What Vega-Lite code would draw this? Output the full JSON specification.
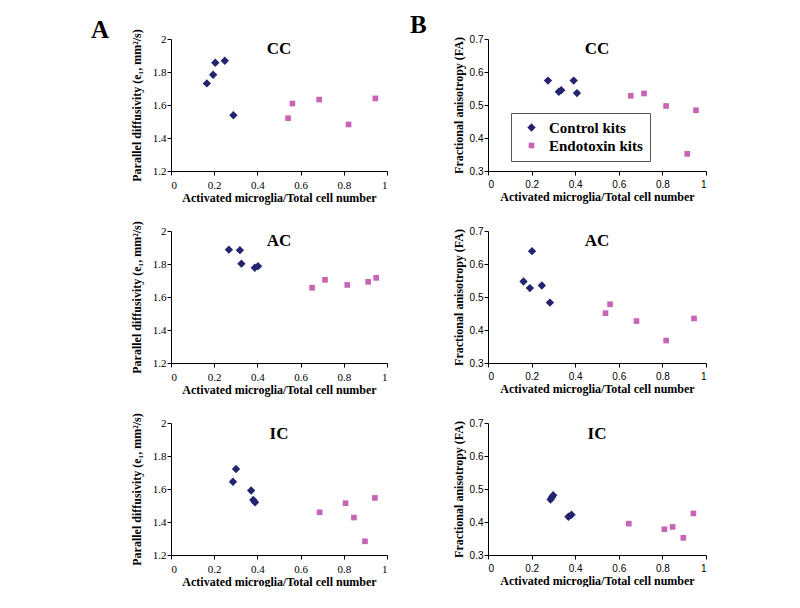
{
  "$schema": "https://vega.github.io/schema/vega-lite/v6.json",
  "background": "white",
  "padding": {"left": 91, "top": 13, "right": 0, "bottom": 0},
  "config": {
    "view": {"stroke": null},
    "axis": {
      "grid": false,
      "domainColor": "#000",
      "domainWidth": 1,
      "tickColor": "#000",
      "tickSize": 4,
      "labelColor": "#000",
      "labelOverlap": false,
      "titleColor": "#000",
      "titleFont": "Liberation Serif",
      "titleFontSize": 12,
      "titleFontWeight": "bold"
    },
    "axisX": {"labelPadding": 4, "titlePadding": 2},
    "axisY": {"labelPadding": 1, "titlePadding": 9}
  },
  "datasets": {
    "pts": [
      {"panel": "A-CC", "group": "Control kits", "ratio": 0.166, "value": 1.731},
      {"panel": "A-CC", "group": "Control kits", "ratio": 0.195, "value": 1.783},
      {"panel": "A-CC", "group": "Control kits", "ratio": 0.205, "value": 1.856},
      {"panel": "A-CC", "group": "Control kits", "ratio": 0.249, "value": 1.868},
      {"panel": "A-CC", "group": "Control kits", "ratio": 0.289, "value": 1.538},
      {"panel": "A-CC", "group": "Endotoxin kits", "ratio": 0.542, "value": 1.520},
      {"panel": "A-CC", "group": "Endotoxin kits", "ratio": 0.562, "value": 1.609},
      {"panel": "A-CC", "group": "Endotoxin kits", "ratio": 0.686, "value": 1.633},
      {"panel": "A-CC", "group": "Endotoxin kits", "ratio": 0.822, "value": 1.482},
      {"panel": "A-CC", "group": "Endotoxin kits", "ratio": 0.946, "value": 1.640},
      {"panel": "B-CC", "group": "Control kits", "ratio": 0.275, "value": 0.574},
      {"panel": "B-CC", "group": "Control kits", "ratio": 0.325, "value": 0.540},
      {"panel": "B-CC", "group": "Control kits", "ratio": 0.336, "value": 0.545},
      {"panel": "B-CC", "group": "Control kits", "ratio": 0.393, "value": 0.574},
      {"panel": "B-CC", "group": "Control kits", "ratio": 0.408, "value": 0.536},
      {"panel": "B-CC", "group": "Endotoxin kits", "ratio": 0.655, "value": 0.528},
      {"panel": "B-CC", "group": "Endotoxin kits", "ratio": 0.716, "value": 0.535},
      {"panel": "B-CC", "group": "Endotoxin kits", "ratio": 0.817, "value": 0.497},
      {"panel": "B-CC", "group": "Endotoxin kits", "ratio": 0.954, "value": 0.484},
      {"panel": "B-CC", "group": "Endotoxin kits", "ratio": 0.914, "value": 0.352},
      {"panel": "A-AC", "group": "Control kits", "ratio": 0.268, "value": 1.887},
      {"panel": "A-AC", "group": "Control kits", "ratio": 0.319, "value": 1.884},
      {"panel": "A-AC", "group": "Control kits", "ratio": 0.326, "value": 1.802},
      {"panel": "A-AC", "group": "Control kits", "ratio": 0.388, "value": 1.777},
      {"panel": "A-AC", "group": "Control kits", "ratio": 0.403, "value": 1.787},
      {"panel": "A-AC", "group": "Endotoxin kits", "ratio": 0.653, "value": 1.656},
      {"panel": "A-AC", "group": "Endotoxin kits", "ratio": 0.713, "value": 1.704},
      {"panel": "A-AC", "group": "Endotoxin kits", "ratio": 0.816, "value": 1.673},
      {"panel": "A-AC", "group": "Endotoxin kits", "ratio": 0.913, "value": 1.692},
      {"panel": "A-AC", "group": "Endotoxin kits", "ratio": 0.950, "value": 1.716},
      {"panel": "B-AC", "group": "Control kits", "ratio": 0.163, "value": 0.547},
      {"panel": "B-AC", "group": "Control kits", "ratio": 0.192, "value": 0.527},
      {"panel": "B-AC", "group": "Control kits", "ratio": 0.202, "value": 0.639},
      {"panel": "B-AC", "group": "Control kits", "ratio": 0.247, "value": 0.535},
      {"panel": "B-AC", "group": "Control kits", "ratio": 0.284, "value": 0.483},
      {"panel": "B-AC", "group": "Endotoxin kits", "ratio": 0.539, "value": 0.451},
      {"panel": "B-AC", "group": "Endotoxin kits", "ratio": 0.560, "value": 0.478},
      {"panel": "B-AC", "group": "Endotoxin kits", "ratio": 0.681, "value": 0.427},
      {"panel": "B-AC", "group": "Endotoxin kits", "ratio": 0.817, "value": 0.368},
      {"panel": "B-AC", "group": "Endotoxin kits", "ratio": 0.945, "value": 0.435},
      {"panel": "A-IC", "group": "Control kits", "ratio": 0.287, "value": 1.644},
      {"panel": "A-IC", "group": "Control kits", "ratio": 0.301, "value": 1.721},
      {"panel": "A-IC", "group": "Control kits", "ratio": 0.371, "value": 1.591},
      {"panel": "A-IC", "group": "Control kits", "ratio": 0.381, "value": 1.534},
      {"panel": "A-IC", "group": "Control kits", "ratio": 0.389, "value": 1.520},
      {"panel": "A-IC", "group": "Endotoxin kits", "ratio": 0.688, "value": 1.459},
      {"panel": "A-IC", "group": "Endotoxin kits", "ratio": 0.808, "value": 1.514},
      {"panel": "A-IC", "group": "Endotoxin kits", "ratio": 0.847, "value": 1.427},
      {"panel": "A-IC", "group": "Endotoxin kits", "ratio": 0.898, "value": 1.283},
      {"panel": "A-IC", "group": "Endotoxin kits", "ratio": 0.944, "value": 1.546},
      {"panel": "B-IC", "group": "Control kits", "ratio": 0.287, "value": 0.468},
      {"panel": "B-IC", "group": "Control kits", "ratio": 0.293, "value": 0.475},
      {"panel": "B-IC", "group": "Control kits", "ratio": 0.299, "value": 0.481},
      {"panel": "B-IC", "group": "Control kits", "ratio": 0.369, "value": 0.416},
      {"panel": "B-IC", "group": "Control kits", "ratio": 0.383, "value": 0.422},
      {"panel": "B-IC", "group": "Endotoxin kits", "ratio": 0.646, "value": 0.395},
      {"panel": "B-IC", "group": "Endotoxin kits", "ratio": 0.809, "value": 0.378},
      {"panel": "B-IC", "group": "Endotoxin kits", "ratio": 0.847, "value": 0.385},
      {"panel": "B-IC", "group": "Endotoxin kits", "ratio": 0.896, "value": 0.352},
      {"panel": "B-IC", "group": "Endotoxin kits", "ratio": 0.942, "value": 0.426}
    ]
  },
  "columns": 2,
  "bounds": "flush",
  "spacing": {"row": 60, "column": 101},
  "resolve": {
    "scale": {"color": "independent", "shape": "independent", "size": "independent"},
    "legend": {"color": "independent", "shape": "independent", "size": "independent"}
  },
  "concat": [
    {
      "width": 216, "height": 132,
      "title": {"text": "A", "anchor": "start", "frame": "group", "dx": -80, "offset": -34, "baseline": "alphabetic", "font": "Liberation Serif", "fontSize": 25, "fontWeight": "bold", "color": "#000"},
      "layer": [
        {
          "data": {"name": "pts"},
          "transform": [{"filter": "datum.panel === 'A-CC'"}],
          "mark": {"type": "point", "filled": true, "opacity": 1},
          "encoding": {
            "x": {"field": "ratio", "type": "quantitative", "scale": {"domain": [0, 1], "nice": false}, "axis": {"title": "Activated microglia/Total cell number", "values": [0, 0.2, 0.4, 0.6, 0.8, 1], "format": "~g", "labelFont": "Liberation Serif", "labelFontSize": 11}},
            "y": {"field": "value", "type": "quantitative", "scale": {"domain": [1.2, 2], "nice": false, "zero": false}, "axis": {"title": "Parallel diffusivity (e₁, mm²/s)", "values": [1.2, 1.4, 1.6, 1.8, 2], "format": "~g", "labelFont": "Liberation Serif", "labelFontSize": 11}},
            "color": {"field": "group", "type": "nominal", "scale": {"domain": ["Control kits", "Endotoxin kits"], "range": ["#23236f", "#c864b4"]}, "legend": null},
            "shape": {"field": "group", "type": "nominal", "scale": {"domain": ["Control kits", "Endotoxin kits"], "range": ["diamond", "square"]}, "legend": null},
            "size": {"field": "group", "type": "nominal", "scale": {"domain": ["Control kits", "Endotoxin kits"], "range": [70, 32]}, "legend": null}
          }
        },
        {
          "data": {"values": [{"label": "CC"}]},
          "mark": {"type": "text", "baseline": "top", "dy": 2, "font": "Liberation Serif", "fontSize": 17, "fontWeight": "bold", "color": "#000"},
          "encoding": {
            "x": {"datum": 0.5, "type": "quantitative", "axis": {"title": "Activated microglia/Total cell number", "values": [0, 0.2, 0.4, 0.6, 0.8, 1], "format": "~g", "labelFont": "Liberation Serif", "labelFontSize": 11}},
            "y": {"datum": 2, "type": "quantitative", "axis": {"title": "Parallel diffusivity (e₁, mm²/s)", "values": [1.2, 1.4, 1.6, 1.8, 2], "format": "~g", "labelFont": "Liberation Serif", "labelFontSize": 11}},
            "text": {"field": "label"}
          }
        }
      ]
    },
    {
      "width": 218, "height": 132,
      "title": {"text": "B", "anchor": "start", "frame": "group", "dx": -78, "offset": -24, "baseline": "alphabetic", "font": "Liberation Serif", "fontSize": 25, "fontWeight": "bold", "color": "#000"},
      "layer": [
        {
          "data": {"name": "pts"},
          "transform": [{"filter": "datum.panel === 'B-CC'"}],
          "mark": {"type": "point", "filled": true, "opacity": 1},
          "encoding": {
            "x": {"field": "ratio", "type": "quantitative", "scale": {"domain": [0, 1], "nice": false}, "axis": {"title": "Activated microglia/Total cell number", "values": [0, 0.2, 0.4, 0.6, 0.8, 1], "format": "~g", "labelFont": "Liberation Sans", "labelFontSize": 10}},
            "y": {"field": "value", "type": "quantitative", "scale": {"domain": [0.3, 0.7], "nice": false, "zero": false}, "axis": {"title": "Fractional anisotropy (FA)", "values": [0.3, 0.4, 0.5, 0.6, 0.7], "format": "~g", "labelFont": "Liberation Sans", "labelFontSize": 10, "titlePadding": 4}},
            "color": {"field": "group", "type": "nominal", "scale": {"domain": ["Control kits", "Endotoxin kits"], "range": ["#23236f", "#c864b4"]}, "legend": {"title": null, "orient": "none", "legendX": 23, "legendY": 74, "padding": 7, "symbolOffset": 6, "labelOffset": 10, "rowPadding": 2, "labelFont": "Liberation Serif", "labelFontSize": 15, "labelFontWeight": "bold", "labelColor": "#000", "strokeColor": "#555", "fillColor": "white"}},
            "shape": {"field": "group", "type": "nominal", "scale": {"domain": ["Control kits", "Endotoxin kits"], "range": ["diamond", "square"]}},
            "size": {"field": "group", "type": "nominal", "scale": {"domain": ["Control kits", "Endotoxin kits"], "range": [70, 32]}}
          }
        },
        {
          "data": {"values": [{"label": "CC"}]},
          "mark": {"type": "text", "baseline": "top", "dy": 2, "font": "Liberation Serif", "fontSize": 17, "fontWeight": "bold", "color": "#000"},
          "encoding": {
            "x": {"datum": 0.5, "type": "quantitative", "axis": {"title": "Activated microglia/Total cell number", "values": [0, 0.2, 0.4, 0.6, 0.8, 1], "format": "~g", "labelFont": "Liberation Sans", "labelFontSize": 10}},
            "y": {"datum": 0.7, "type": "quantitative", "axis": {"title": "Fractional anisotropy (FA)", "values": [0.3, 0.4, 0.5, 0.6, 0.7], "format": "~g", "labelFont": "Liberation Sans", "labelFontSize": 10, "titlePadding": 4}},
            "text": {"field": "label"}
          }
        }
      ]
    },
    {
      "width": 216, "height": 132,
      "layer": [
        {
          "data": {"name": "pts"},
          "transform": [{"filter": "datum.panel === 'A-AC'"}],
          "mark": {"type": "point", "filled": true, "opacity": 1},
          "encoding": {
            "x": {"field": "ratio", "type": "quantitative", "scale": {"domain": [0, 1], "nice": false}, "axis": {"title": "Activated microglia/Total cell number", "values": [0, 0.2, 0.4, 0.6, 0.8, 1], "format": "~g", "labelFont": "Liberation Serif", "labelFontSize": 11}},
            "y": {"field": "value", "type": "quantitative", "scale": {"domain": [1.2, 2], "nice": false, "zero": false}, "axis": {"title": "Parallel diffusivity (e₁, mm²/s)", "values": [1.2, 1.4, 1.6, 1.8, 2], "format": "~g", "labelFont": "Liberation Serif", "labelFontSize": 11}},
            "color": {"field": "group", "type": "nominal", "scale": {"domain": ["Control kits", "Endotoxin kits"], "range": ["#23236f", "#c864b4"]}, "legend": null},
            "shape": {"field": "group", "type": "nominal", "scale": {"domain": ["Control kits", "Endotoxin kits"], "range": ["diamond", "square"]}, "legend": null},
            "size": {"field": "group", "type": "nominal", "scale": {"domain": ["Control kits", "Endotoxin kits"], "range": [70, 32]}, "legend": null}
          }
        },
        {
          "data": {"values": [{"label": "AC"}]},
          "mark": {"type": "text", "baseline": "top", "dy": 2, "font": "Liberation Serif", "fontSize": 17, "fontWeight": "bold", "color": "#000"},
          "encoding": {
            "x": {"datum": 0.5, "type": "quantitative", "axis": {"title": "Activated microglia/Total cell number", "values": [0, 0.2, 0.4, 0.6, 0.8, 1], "format": "~g", "labelFont": "Liberation Serif", "labelFontSize": 11}},
            "y": {"datum": 2, "type": "quantitative", "axis": {"title": "Parallel diffusivity (e₁, mm²/s)", "values": [1.2, 1.4, 1.6, 1.8, 2], "format": "~g", "labelFont": "Liberation Serif", "labelFontSize": 11}},
            "text": {"field": "label"}
          }
        }
      ]
    },
    {
      "width": 218, "height": 132,
      "layer": [
        {
          "data": {"name": "pts"},
          "transform": [{"filter": "datum.panel === 'B-AC'"}],
          "mark": {"type": "point", "filled": true, "opacity": 1},
          "encoding": {
            "x": {"field": "ratio", "type": "quantitative", "scale": {"domain": [0, 1], "nice": false}, "axis": {"title": "Activated microglia/Total cell number", "values": [0, 0.2, 0.4, 0.6, 0.8, 1], "format": "~g", "labelFont": "Liberation Sans", "labelFontSize": 10}},
            "y": {"field": "value", "type": "quantitative", "scale": {"domain": [0.3, 0.7], "nice": false, "zero": false}, "axis": {"title": "Fractional anisotropy (FA)", "values": [0.3, 0.4, 0.5, 0.6, 0.7], "format": "~g", "labelFont": "Liberation Sans", "labelFontSize": 10, "titlePadding": 4}},
            "color": {"field": "group", "type": "nominal", "scale": {"domain": ["Control kits", "Endotoxin kits"], "range": ["#23236f", "#c864b4"]}, "legend": null},
            "shape": {"field": "group", "type": "nominal", "scale": {"domain": ["Control kits", "Endotoxin kits"], "range": ["diamond", "square"]}, "legend": null},
            "size": {"field": "group", "type": "nominal", "scale": {"domain": ["Control kits", "Endotoxin kits"], "range": [70, 32]}, "legend": null}
          }
        },
        {
          "data": {"values": [{"label": "AC"}]},
          "mark": {"type": "text", "baseline": "top", "dy": 2, "font": "Liberation Serif", "fontSize": 17, "fontWeight": "bold", "color": "#000"},
          "encoding": {
            "x": {"datum": 0.5, "type": "quantitative", "axis": {"title": "Activated microglia/Total cell number", "values": [0, 0.2, 0.4, 0.6, 0.8, 1], "format": "~g", "labelFont": "Liberation Sans", "labelFontSize": 10}},
            "y": {"datum": 0.7, "type": "quantitative", "axis": {"title": "Fractional anisotropy (FA)", "values": [0.3, 0.4, 0.5, 0.6, 0.7], "format": "~g", "labelFont": "Liberation Sans", "labelFontSize": 10, "titlePadding": 4}},
            "text": {"field": "label"}
          }
        }
      ]
    },
    {
      "width": 216, "height": 132,
      "layer": [
        {
          "data": {"name": "pts"},
          "transform": [{"filter": "datum.panel === 'A-IC'"}],
          "mark": {"type": "point", "filled": true, "opacity": 1},
          "encoding": {
            "x": {"field": "ratio", "type": "quantitative", "scale": {"domain": [0, 1], "nice": false}, "axis": {"title": "Activated microglia/Total cell number", "values": [0, 0.2, 0.4, 0.6, 0.8, 1], "format": "~g", "labelFont": "Liberation Serif", "labelFontSize": 11}},
            "y": {"field": "value", "type": "quantitative", "scale": {"domain": [1.2, 2], "nice": false, "zero": false}, "axis": {"title": "Parallel diffusivity (e₁, mm²/s)", "values": [1.2, 1.4, 1.6, 1.8, 2], "format": "~g", "labelFont": "Liberation Serif", "labelFontSize": 11}},
            "color": {"field": "group", "type": "nominal", "scale": {"domain": ["Control kits", "Endotoxin kits"], "range": ["#23236f", "#c864b4"]}, "legend": null},
            "shape": {"field": "group", "type": "nominal", "scale": {"domain": ["Control kits", "Endotoxin kits"], "range": ["diamond", "square"]}, "legend": null},
            "size": {"field": "group", "type": "nominal", "scale": {"domain": ["Control kits", "Endotoxin kits"], "range": [70, 32]}, "legend": null}
          }
        },
        {
          "data": {"values": [{"label": "IC"}]},
          "mark": {"type": "text", "baseline": "top", "dy": 3, "font": "Liberation Serif", "fontSize": 17, "fontWeight": "bold", "color": "#000"},
          "encoding": {
            "x": {"datum": 0.5, "type": "quantitative", "axis": {"title": "Activated microglia/Total cell number", "values": [0, 0.2, 0.4, 0.6, 0.8, 1], "format": "~g", "labelFont": "Liberation Serif", "labelFontSize": 11}},
            "y": {"datum": 2, "type": "quantitative", "axis": {"title": "Parallel diffusivity (e₁, mm²/s)", "values": [1.2, 1.4, 1.6, 1.8, 2], "format": "~g", "labelFont": "Liberation Serif", "labelFontSize": 11}},
            "text": {"field": "label"}
          }
        }
      ]
    },
    {
      "width": 218, "height": 132,
      "layer": [
        {
          "data": {"name": "pts"},
          "transform": [{"filter": "datum.panel === 'B-IC'"}],
          "mark": {"type": "point", "filled": true, "opacity": 1},
          "encoding": {
            "x": {"field": "ratio", "type": "quantitative", "scale": {"domain": [0, 1], "nice": false}, "axis": {"title": "Activated microglia/Total cell number", "values": [0, 0.2, 0.4, 0.6, 0.8, 1], "format": "~g", "labelFont": "Liberation Sans", "labelFontSize": 10}},
            "y": {"field": "value", "type": "quantitative", "scale": {"domain": [0.3, 0.7], "nice": false, "zero": false}, "axis": {"title": "Fractional anisotropy (FA)", "values": [0.3, 0.4, 0.5, 0.6, 0.7], "format": "~g", "labelFont": "Liberation Sans", "labelFontSize": 10, "titlePadding": 4}},
            "color": {"field": "group", "type": "nominal", "scale": {"domain": ["Control kits", "Endotoxin kits"], "range": ["#23236f", "#c864b4"]}, "legend": null},
            "shape": {"field": "group", "type": "nominal", "scale": {"domain": ["Control kits", "Endotoxin kits"], "range": ["diamond", "square"]}, "legend": null},
            "size": {"field": "group", "type": "nominal", "scale": {"domain": ["Control kits", "Endotoxin kits"], "range": [70, 32]}, "legend": null}
          }
        },
        {
          "data": {"values": [{"label": "IC"}]},
          "mark": {"type": "text", "baseline": "top", "dy": 3, "font": "Liberation Serif", "fontSize": 17, "fontWeight": "bold", "color": "#000"},
          "encoding": {
            "x": {"datum": 0.5, "type": "quantitative", "axis": {"title": "Activated microglia/Total cell number", "values": [0, 0.2, 0.4, 0.6, 0.8, 1], "format": "~g", "labelFont": "Liberation Sans", "labelFontSize": 10}},
            "y": {"datum": 0.7, "type": "quantitative", "axis": {"title": "Fractional anisotropy (FA)", "values": [0.3, 0.4, 0.5, 0.6, 0.7], "format": "~g", "labelFont": "Liberation Sans", "labelFontSize": 10, "titlePadding": 4}},
            "text": {"field": "label"}
          }
        }
      ]
    }
  ]
}
